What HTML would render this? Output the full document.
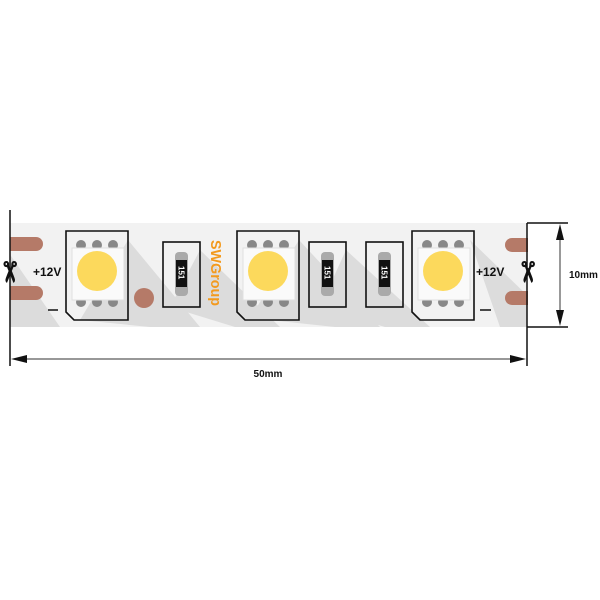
<!DOCTYPE html>
<html><head><meta charset="utf-8"><style>
html,body{margin:0;padding:0;background:#fff;width:600px;height:600px;overflow:hidden}
svg{display:block}
text{font-family:"Liberation Sans",sans-serif;font-weight:bold}
</style></head><body>
<svg width="600" height="600" viewBox="0 0 600 600" xmlns="http://www.w3.org/2000/svg">
<defs>
<clipPath id="strip"><rect x="10" y="223" width="517" height="104"/></clipPath>
<g id="led">
<polygon points="66,231 128,231 128,320 74,320 66,312" fill="none" stroke="#111" stroke-width="1.6"/>
<circle cx="81" cy="245" r="5" fill="#888"/><circle cx="97" cy="245" r="5" fill="#888"/><circle cx="113" cy="245" r="5" fill="#888"/>
<circle cx="81" cy="302" r="5" fill="#888"/><circle cx="97" cy="302" r="5" fill="#888"/><circle cx="113" cy="302" r="5" fill="#888"/>
<rect x="72" y="248" width="52" height="52" fill="#fafafa" stroke="#e0e0e0" stroke-width="1"/>
<circle cx="97" cy="271" r="20" fill="#fcd95c"/>
</g>
<g id="res">
<rect x="163" y="242" width="37" height="65" fill="none" stroke="#111" stroke-width="1.6"/>
<rect x="175" y="252" width="13" height="44" rx="4" fill="#aaa"/>
<rect x="176" y="260" width="11" height="27" fill="#111"/>
<text x="0" y="0" font-size="8" fill="#fff" font-weight="normal" transform="translate(178.5,266) rotate(90)">151</text>
</g>
</defs>
<rect x="10" y="223" width="517" height="104" fill="#f2f2f2"/>
<g clip-path="url(#strip)" fill="#dcdcdc">
<polygon points="128,240 200,327 150,327 80,320"/>
<polygon points="200,250 280,327 235,327 170,307"/>
<polygon points="299,240 380,327 335,327 250,318"/>
<polygon points="346,250 430,327 385,327 320,307"/>
<polygon points="0,240 60,327 10,327"/>
<polygon points="470,240 560,327 500,327"/>
</g>
<rect x="10" y="237" width="33" height="14" rx="7" fill="#b57a68"/>
<rect x="0" y="237" width="20" height="14" fill="#b57a68"/>
<rect x="10" y="286" width="33" height="14" rx="7" fill="#b57a68"/>
<rect x="0" y="286" width="20" height="14" fill="#b57a68"/>
<rect x="505" y="238" width="40" height="14" rx="7" fill="#b57a68"/>
<rect x="505" y="291" width="40" height="14" rx="7" fill="#b57a68"/>
<rect x="528" y="230" width="40" height="90" fill="#fff"/>
<rect x="0" y="230" width="10" height="90" fill="#fff"/>
<circle cx="144" cy="298" r="10" fill="#b57a68"/>
<use href="#led"/>
<use href="#led" x="171"/>
<use href="#led" x="346"/>
<use href="#res"/>
<use href="#res" x="146"/>
<use href="#res" x="203"/>
<text x="0" y="0" font-size="15" fill="#f39a1e" font-weight="normal" transform="translate(211,240) rotate(90)" textLength="66" lengthAdjust="spacingAndGlyphs">SWGroup</text>
<text x="33" y="276" font-size="12" fill="#111">+12V</text>
<text x="476" y="276" font-size="12" fill="#111">+12V</text>
<line x1="48" y1="310" x2="58" y2="310" stroke="#111" stroke-width="1.5"/>
<line x1="480" y1="310" x2="491" y2="310" stroke="#111" stroke-width="1.5"/>
<text x="0" y="0" font-size="28" fill="#111" font-weight="normal" text-anchor="middle" transform="translate(0,272) rotate(90)">✂</text>
<text x="0" y="0" font-size="28" fill="#111" font-weight="normal" text-anchor="middle" transform="translate(518,272) rotate(90)">✂</text>
<line x1="10" y1="210" x2="10" y2="366" stroke="#111" stroke-width="1.5"/>
<line x1="527" y1="223" x2="527" y2="366" stroke="#111" stroke-width="1.5"/>
<line x1="527" y1="223" x2="568" y2="223" stroke="#111" stroke-width="1.5"/>
<line x1="527" y1="327" x2="568" y2="327" stroke="#111" stroke-width="1.5"/>
<line x1="560" y1="232" x2="560" y2="318" stroke="#777" stroke-width="1.5"/>
<polygon points="560,224 556,240 564,240" fill="#111"/>
<polygon points="560,326 556,310 564,310" fill="#111"/>
<line x1="20" y1="359" x2="517" y2="359" stroke="#777" stroke-width="1.5"/>
<polygon points="11,359 27,355 27,363" fill="#111"/>
<polygon points="526,359 510,355 510,363" fill="#111"/>
<text x="268" y="377" font-size="10" fill="#111" text-anchor="middle">50mm</text>
<text x="569" y="278" font-size="10" fill="#111">10mm</text>
</svg>
</body></html>
